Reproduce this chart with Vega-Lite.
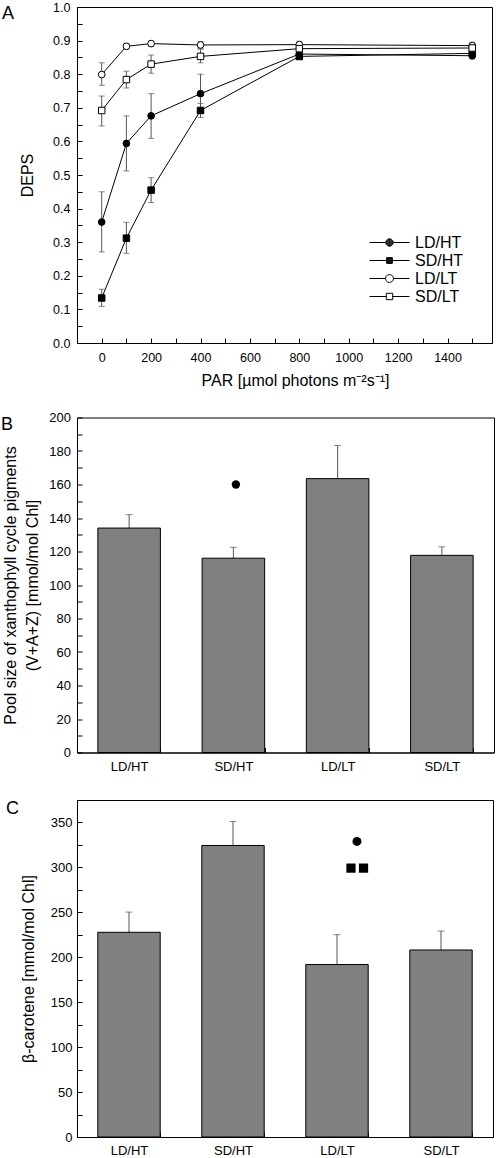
{
  "$schema": "https://vega.github.io/schema/vega-lite/v6.json",
  "background": "white",
  "padding": {"left": 0, "top": 0, "right": 3, "bottom": 2},
  "spacing": 21.5,
  "config": {
    "font": "Liberation Sans",
    "view": {"stroke": "black", "strokeWidth": 1},
    "axis": {
      "grid": false,
      "domainColor": "black",
      "tickColor": "black",
      "labelColor": "black",
      "titleColor": "black",
      "titleFontWeight": "normal",
      "titleFontSize": 16,
      "titleFont": "Liberation Sans",
      "labelFont": "Liberation Sans",
      "tickSize": -5,
      "labelOverlap": false,
      "labelBound": false
    },
    "legend": {"labelFont": "Liberation Sans"},
    "title": {"font": "Liberation Sans", "fontWeight": "normal", "fontSize": 18, "color": "black"}
  },
  "vconcat": [
    {
      "width": 415,
      "height": 336,
      "title": {"text": "A", "anchor": "start", "frame": "group", "offset": 0, "baseline": "top", "dx": -75, "dy": 22},
      "data": {
        "values": [
          {"group": "LD/HT", "par": 0, "deps": 0.360, "lo": 0.271, "hi": 0.450},
          {"group": "LD/HT", "par": 100, "deps": 0.594, "lo": 0.512, "hi": 0.676},
          {"group": "LD/HT", "par": 200, "deps": 0.676, "lo": 0.609, "hi": 0.742},
          {"group": "LD/HT", "par": 400, "deps": 0.742, "lo": 0.686, "hi": 0.800},
          {"group": "LD/HT", "par": 800, "deps": 0.860, "lo": 0.848, "hi": 0.872},
          {"group": "LD/HT", "par": 1500, "deps": 0.855, "lo": 0.845, "hi": 0.866},
          {"group": "SD/HT", "par": 0, "deps": 0.134, "lo": 0.109, "hi": 0.160},
          {"group": "SD/HT", "par": 100, "deps": 0.312, "lo": 0.267, "hi": 0.359},
          {"group": "SD/HT", "par": 200, "deps": 0.455, "lo": 0.418, "hi": 0.492},
          {"group": "SD/HT", "par": 400, "deps": 0.692, "lo": 0.671, "hi": 0.713},
          {"group": "SD/HT", "par": 800, "deps": 0.853, "lo": 0.843, "hi": 0.863},
          {"group": "SD/HT", "par": 1500, "deps": 0.862, "lo": 0.852, "hi": 0.872},
          {"group": "LD/LT", "par": 0, "deps": 0.799, "lo": 0.767, "hi": 0.834},
          {"group": "LD/LT", "par": 100, "deps": 0.883, "lo": 0.875, "hi": 0.891},
          {"group": "LD/LT", "par": 200, "deps": 0.891, "lo": 0.883, "hi": 0.899},
          {"group": "LD/LT", "par": 400, "deps": 0.887, "lo": 0.877, "hi": 0.897},
          {"group": "LD/LT", "par": 800, "deps": 0.888, "lo": 0.878, "hi": 0.898},
          {"group": "LD/LT", "par": 1500, "deps": 0.885, "lo": 0.875, "hi": 0.895},
          {"group": "SD/LT", "par": 0, "deps": 0.692, "lo": 0.646, "hi": 0.735},
          {"group": "SD/LT", "par": 100, "deps": 0.784, "lo": 0.759, "hi": 0.809},
          {"group": "SD/LT", "par": 200, "deps": 0.830, "lo": 0.803, "hi": 0.857},
          {"group": "SD/LT", "par": 400, "deps": 0.853, "lo": 0.834, "hi": 0.874},
          {"group": "SD/LT", "par": 800, "deps": 0.876, "lo": 0.866, "hi": 0.886},
          {"group": "SD/LT", "par": 1500, "deps": 0.878, "lo": 0.868, "hi": 0.888}
        ]
      },
      "encoding": {
        "x": {
          "field": "par",
          "type": "quantitative",
          "scale": {"domain": [-100, 1580], "nice": false, "zero": false},
          "axis": {
            "title": "PAR [µmol photons m⁻²s⁻¹]",
            "values": [0, 100, 200, 300, 400, 500, 600, 700, 800, 900, 1000, 1100, 1200, 1300, 1400, 1500],
            "format": "d",
            "labelExpr": "datum.value % 200 == 0 ? datum.label : ''",
            "labelFontSize": 12.5,
            "labelPadding": 13,
            "titlePadding": 9,
            "titleX": 218
          }
        }
      },
      "layer": [
        {
          "mark": {"type": "line", "color": "black", "strokeWidth": 1},
          "encoding": {
            "y": {
              "field": "deps", "type": "quantitative",
              "scale": {"domain": [0, 1], "nice": false},
              "axis": {"title": "DEPS", "values": [0, 0.05, 0.1, 0.15, 0.2, 0.25, 0.3, 0.35, 0.4, 0.45, 0.5, 0.55, 0.6, 0.65, 0.7, 0.75, 0.8, 0.85, 0.9, 0.95, 1], "labelExpr": "round(datum.value * 100) % 10 == 0 ? format(datum.value, '.1f') : ''", "labelFontSize": 12.5, "labelPadding": 12, "titlePadding": 17}
            },
            "detail": {"field": "group"}
          }
        },
        {
          "mark": {"type": "errorbar", "color": "#555555", "ticks": {"size": 6, "color": "#555555"}, "rule": {"color": "#555555"}},
          "encoding": {
            "y": {
              "field": "lo", "type": "quantitative",
              "scale": {"domain": [0, 1], "nice": false},
              "axis": {"title": "DEPS", "values": [0, 0.05, 0.1, 0.15, 0.2, 0.25, 0.3, 0.35, 0.4, 0.45, 0.5, 0.55, 0.6, 0.65, 0.7, 0.75, 0.8, 0.85, 0.9, 0.95, 1], "labelExpr": "round(datum.value * 100) % 10 == 0 ? format(datum.value, '.1f') : ''", "labelFontSize": 12.5, "labelPadding": 12, "titlePadding": 17}
            },
            "y2": {"field": "hi"},
            "detail": {"field": "group"}
          }
        },
        {
          "transform": [{"filter": "datum.group == 'LD/HT'"}],
          "mark": {"type": "point", "shape": "circle", "filled": true, "fill": "black", "stroke": "black", "strokeWidth": 1, "size": 45, "opacity": 1},
          "encoding": {
            "y": {
              "field": "deps", "type": "quantitative",
              "scale": {"domain": [0, 1], "nice": false},
              "axis": {"title": "DEPS", "values": [0, 0.05, 0.1, 0.15, 0.2, 0.25, 0.3, 0.35, 0.4, 0.45, 0.5, 0.55, 0.6, 0.65, 0.7, 0.75, 0.8, 0.85, 0.9, 0.95, 1], "labelExpr": "round(datum.value * 100) % 10 == 0 ? format(datum.value, '.1f') : ''", "labelFontSize": 12.5, "labelPadding": 12, "titlePadding": 17}
            }
          }
        },
        {
          "transform": [{"filter": "datum.group == 'SD/HT'"}],
          "mark": {"type": "point", "shape": "square", "filled": true, "fill": "black", "stroke": "black", "strokeWidth": 1, "size": 42, "opacity": 1},
          "encoding": {
            "y": {
              "field": "deps", "type": "quantitative",
              "scale": {"domain": [0, 1], "nice": false},
              "axis": {"title": "DEPS", "values": [0, 0.05, 0.1, 0.15, 0.2, 0.25, 0.3, 0.35, 0.4, 0.45, 0.5, 0.55, 0.6, 0.65, 0.7, 0.75, 0.8, 0.85, 0.9, 0.95, 1], "labelExpr": "round(datum.value * 100) % 10 == 0 ? format(datum.value, '.1f') : ''", "labelFontSize": 12.5, "labelPadding": 12, "titlePadding": 17}
            }
          }
        },
        {
          "transform": [{"filter": "datum.group == 'LD/LT'"}],
          "mark": {"type": "point", "shape": "circle", "filled": true, "fill": "white", "stroke": "black", "strokeWidth": 1, "size": 45, "opacity": 1},
          "encoding": {
            "y": {
              "field": "deps", "type": "quantitative",
              "scale": {"domain": [0, 1], "nice": false},
              "axis": {"title": "DEPS", "values": [0, 0.05, 0.1, 0.15, 0.2, 0.25, 0.3, 0.35, 0.4, 0.45, 0.5, 0.55, 0.6, 0.65, 0.7, 0.75, 0.8, 0.85, 0.9, 0.95, 1], "labelExpr": "round(datum.value * 100) % 10 == 0 ? format(datum.value, '.1f') : ''", "labelFontSize": 12.5, "labelPadding": 12, "titlePadding": 17}
            }
          }
        },
        {
          "transform": [{"filter": "datum.group == 'SD/LT'"}],
          "mark": {"type": "point", "shape": "square", "filled": true, "fill": "white", "stroke": "black", "strokeWidth": 1, "size": 42, "opacity": 1},
          "encoding": {
            "y": {
              "field": "deps", "type": "quantitative",
              "scale": {"domain": [0, 1], "nice": false},
              "axis": {"title": "DEPS", "values": [0, 0.05, 0.1, 0.15, 0.2, 0.25, 0.3, 0.35, 0.4, 0.45, 0.5, 0.55, 0.6, 0.65, 0.7, 0.75, 0.8, 0.85, 0.9, 0.95, 1], "labelExpr": "round(datum.value * 100) % 10 == 0 ? format(datum.value, '.1f') : ''", "labelFontSize": 12.5, "labelPadding": 12, "titlePadding": 17}
            }
          }
        },
        {
          "transform": [{"filter": "datum.par < -1000"}],
          "mark": {"type": "point", "filled": false, "color": "black", "strokeWidth": 1, "opacity": 1},
          "encoding": {
            "y": {
              "field": "deps", "type": "quantitative",
              "scale": {"domain": [0, 1], "nice": false},
              "axis": {"title": "DEPS", "values": [0, 0.05, 0.1, 0.15, 0.2, 0.25, 0.3, 0.35, 0.4, 0.45, 0.5, 0.55, 0.6, 0.65, 0.7, 0.75, 0.8, 0.85, 0.9, 0.95, 1], "labelExpr": "round(datum.value * 100) % 10 == 0 ? format(datum.value, '.1f') : ''", "labelFontSize": 12.5, "labelPadding": 12, "titlePadding": 17}
            },
            "shape": {
              "field": "group", "type": "nominal",
              "scale": {
                "domain": ["LD/HT", "SD/HT", "LD/LT", "SD/LT"],
                "range": [
                  "M-2.5,0H-0.47M0.47,0H2.5M0.47,0L0.407,0.235L0.235,0.407L0,0.47L-0.235,0.407L-0.407,0.235L-0.47,0L-0.407,-0.235L-0.235,-0.407L0,-0.47L0.235,-0.407L0.407,-0.235ZM0.39,0L0.338,0.195L0.195,0.338L0,0.39L-0.195,0.338L-0.338,0.195L-0.39,0L-0.338,-0.195L-0.195,-0.338L0,-0.39L0.195,-0.338L0.338,-0.195ZM0.31,0L0.268,0.155L0.155,0.268L0,0.31L-0.155,0.268L-0.268,0.155L-0.31,0L-0.268,-0.155L-0.155,-0.268L0,-0.31L0.155,-0.268L0.268,-0.155ZM0.23,0L0.199,0.115L0.115,0.199L0,0.23L-0.115,0.199L-0.199,0.115L-0.23,0L-0.199,-0.115L-0.115,-0.199L0,-0.23L0.115,-0.199L0.199,-0.115ZM0.15,0L0.13,0.075L0.075,0.13L0,0.15L-0.075,0.13L-0.13,0.075L-0.15,0L-0.13,-0.075L-0.075,-0.13L0,-0.15L0.075,-0.13L0.13,-0.075ZM-0.05,-0.05H0.05V0.05H-0.05Z",
                  "M-2.5,0H-0.36M0.36,0H2.5M-0.36,-0.36H0.36V0.36H-0.36ZM-0.29,-0.29H0.29V0.29H-0.29ZM-0.22,-0.22H0.22V0.22H-0.22ZM-0.15,-0.15H0.15V0.15H-0.15ZM-0.08,-0.08H0.08V0.08H-0.08Z",
                  "M-2.5,0H-0.5M0.5,0H2.5M0.5,0L0.433,0.25L0.25,0.433L0,0.5L-0.25,0.433L-0.433,0.25L-0.5,0L-0.433,-0.25L-0.25,-0.433L0,-0.5L0.25,-0.433L0.433,-0.25Z",
                  "M-2.5,0H-0.4M0.4,0H2.5M-0.4,-0.4H0.4V0.4H-0.4Z"
                ]
              },
              "legend": {
                "orient": "none",
                "legendX": 304,
                "legendY": 227,
                "title": null,
                "padding": 0,
                "rowPadding": 1,
                "labelFontSize": 16,
                "labelColor": "black",
                "labelOffset": 17,
                "symbolSize": 256,
                "symbolStrokeColor": "black",
                "symbolStrokeWidth": 1
              }
            }
          }
        }
      ]
    },
    {
      "spacing": 19.5,
      "vconcat": [
        {
          "width": 417,
          "height": 335,
          "title": {"text": "B", "anchor": "start", "frame": "group", "offset": 0, "baseline": "top", "dx": -76, "dy": 22},
          "layer": [
            {
              "data": {
                "values": [
                  {"group": "LD/HT", "value": 134, "hi": 142},
                  {"group": "SD/HT", "value": 116, "hi": 122.5},
                  {"group": "LD/LT", "value": 163.5, "hi": 183.3},
                  {"group": "SD/LT", "value": 117.7, "hi": 122.8}
                ]
              },
              "layer": [
                {
                  "mark": {"type": "rule", "color": "#555555", "strokeWidth": 1},
                  "encoding": {
                    "x": {"field": "group", "type": "nominal", "scale": {"type": "band", "domain": ["LD/HT", "SD/HT", "LD/LT", "SD/LT"], "paddingInner": 0.4, "paddingOuter": 0.2}, "axis": {"title": null, "labelAngle": 0, "labelFontSize": 13, "labelPadding": 12.5, "tickBand": "extent"}},
                    "y": {"field": "value", "type": "quantitative", "scale": {"domain": [0, 200], "nice": false}, "axis": {"title": ["Pool size of xanthophyll cycle pigments", "(V+A+Z) [mmol/mol Chl]"], "titleLineHeight": 22, "values": [0, 10, 20, 30, 40, 50, 60, 70, 80, 90, 100, 110, 120, 130, 140, 150, 160, 170, 180, 190, 200], "labelExpr": "datum.value % 20 == 0 ? datum.label : ''", "labelFontSize": 13, "labelPadding": 11.5, "titlePadding": 8}},
                    "y2": {"field": "hi"}
                  }
                },
                {
                  "mark": {"type": "tick", "color": "#555555", "size": 7, "thickness": 1},
                  "encoding": {
                    "x": {"field": "group", "type": "nominal", "scale": {"type": "band", "domain": ["LD/HT", "SD/HT", "LD/LT", "SD/LT"], "paddingInner": 0.4, "paddingOuter": 0.2}, "axis": {"title": null, "labelAngle": 0, "labelFontSize": 13, "labelPadding": 12.5, "tickBand": "extent"}},
                    "y": {"field": "hi", "type": "quantitative", "scale": {"domain": [0, 200], "nice": false}, "axis": {"title": ["Pool size of xanthophyll cycle pigments", "(V+A+Z) [mmol/mol Chl]"], "titleLineHeight": 22, "values": [0, 10, 20, 30, 40, 50, 60, 70, 80, 90, 100, 110, 120, 130, 140, 150, 160, 170, 180, 190, 200], "labelExpr": "datum.value % 20 == 0 ? datum.label : ''", "labelFontSize": 13, "labelPadding": 11.5, "titlePadding": 8}}
                  }
                },
                {
                  "mark": {"type": "bar", "color": "#808080", "stroke": "black", "strokeWidth": 1},
                  "encoding": {
                    "x": {"field": "group", "type": "nominal", "scale": {"type": "band", "domain": ["LD/HT", "SD/HT", "LD/LT", "SD/LT"], "paddingInner": 0.4, "paddingOuter": 0.2}, "axis": {"title": null, "labelAngle": 0, "labelFontSize": 13, "labelPadding": 12.5, "tickBand": "extent"}},
                    "y": {"field": "value", "type": "quantitative", "scale": {"domain": [0, 200], "nice": false}, "axis": {"title": ["Pool size of xanthophyll cycle pigments", "(V+A+Z) [mmol/mol Chl]"], "titleLineHeight": 22, "values": [0, 10, 20, 30, 40, 50, 60, 70, 80, 90, 100, 110, 120, 130, 140, 150, 160, 170, 180, 190, 200], "labelExpr": "datum.value % 20 == 0 ? datum.label : ''", "labelFontSize": 13, "labelPadding": 11.5, "titlePadding": 8}}
                  }
                }
              ]
            },
            {
              "data": {"values": [{"group": "SD/HT", "value": 160}]},
              "mark": {"type": "point", "shape": "circle", "filled": true, "color": "black", "size": 70, "opacity": 1},
              "encoding": {
                "x": {"field": "group", "type": "nominal", "bandPosition": 0.54, "scale": {"type": "band", "domain": ["LD/HT", "SD/HT", "LD/LT", "SD/LT"], "paddingInner": 0.4, "paddingOuter": 0.2}, "axis": {"title": null, "labelAngle": 0, "labelFontSize": 13, "labelPadding": 12.5, "tickBand": "extent"}},
                "y": {"field": "value", "type": "quantitative", "scale": {"domain": [0, 200], "nice": false}, "axis": {"title": ["Pool size of xanthophyll cycle pigments", "(V+A+Z) [mmol/mol Chl]"], "titleLineHeight": 22, "values": [0, 10, 20, 30, 40, 50, 60, 70, 80, 90, 100, 110, 120, 130, 140, 150, 160, 170, 180, 190, 200], "labelExpr": "datum.value % 20 == 0 ? datum.label : ''", "labelFontSize": 13, "labelPadding": 11.5, "titlePadding": 8}}
              }
            }
          ]
        },
        {
          "width": 416,
          "height": 337,
          "title": {"text": "C", "anchor": "start", "frame": "group", "offset": 0, "baseline": "top", "dx": -71, "dy": 23.8},
          "layer": [
            {
              "data": {
                "values": [
                  {"group": "LD/HT", "value": 227.8, "hi": 250.3},
                  {"group": "SD/HT", "value": 324.4, "hi": 351},
                  {"group": "LD/LT", "value": 191.9, "hi": 225.2},
                  {"group": "SD/LT", "value": 208.1, "hi": 229.2}
                ]
              },
              "layer": [
                {
                  "mark": {"type": "rule", "color": "#555555", "strokeWidth": 1},
                  "encoding": {
                    "x": {"field": "group", "type": "nominal", "scale": {"type": "band", "domain": ["LD/HT", "SD/HT", "LD/LT", "SD/LT"], "paddingInner": 0.4, "paddingOuter": 0.2}, "axis": {"title": null, "labelAngle": 0, "labelFontSize": 13, "labelPadding": 12.5, "tickBand": "extent"}},
                    "y": {"field": "value", "type": "quantitative", "scale": {"domain": [0, 375], "nice": false}, "axis": {"title": "β-carotene [mmol/mol Chl]", "values": [0, 25, 50, 75, 100, 125, 150, 175, 200, 225, 250, 275, 300, 325, 350, 375], "labelExpr": "datum.value % 50 == 0 ? datum.label : ''", "labelFontSize": 13, "labelPadding": 10, "titlePadding": 14}},
                    "y2": {"field": "hi"}
                  }
                },
                {
                  "mark": {"type": "tick", "color": "#555555", "size": 7, "thickness": 1},
                  "encoding": {
                    "x": {"field": "group", "type": "nominal", "scale": {"type": "band", "domain": ["LD/HT", "SD/HT", "LD/LT", "SD/LT"], "paddingInner": 0.4, "paddingOuter": 0.2}, "axis": {"title": null, "labelAngle": 0, "labelFontSize": 13, "labelPadding": 12.5, "tickBand": "extent"}},
                    "y": {"field": "hi", "type": "quantitative", "scale": {"domain": [0, 375], "nice": false}, "axis": {"title": "β-carotene [mmol/mol Chl]", "values": [0, 25, 50, 75, 100, 125, 150, 175, 200, 225, 250, 275, 300, 325, 350, 375], "labelExpr": "datum.value % 50 == 0 ? datum.label : ''", "labelFontSize": 13, "labelPadding": 10, "titlePadding": 14}}
                  }
                },
                {
                  "mark": {"type": "bar", "color": "#808080", "stroke": "black", "strokeWidth": 1},
                  "encoding": {
                    "x": {"field": "group", "type": "nominal", "scale": {"type": "band", "domain": ["LD/HT", "SD/HT", "LD/LT", "SD/LT"], "paddingInner": 0.4, "paddingOuter": 0.2}, "axis": {"title": null, "labelAngle": 0, "labelFontSize": 13, "labelPadding": 12.5, "tickBand": "extent"}},
                    "y": {"field": "value", "type": "quantitative", "scale": {"domain": [0, 375], "nice": false}, "axis": {"title": "β-carotene [mmol/mol Chl]", "values": [0, 25, 50, 75, 100, 125, 150, 175, 200, 225, 250, 275, 300, 325, 350, 375], "labelExpr": "datum.value % 50 == 0 ? datum.label : ''", "labelFontSize": 13, "labelPadding": 10, "titlePadding": 14}}
                  }
                }
              ]
            },
            {
              "data": {"values": [{"group": "LD/LT", "value": 328.9}]},
              "mark": {"type": "point", "shape": "circle", "filled": true, "color": "black", "size": 80, "opacity": 1},
              "encoding": {
                "x": {"field": "group", "type": "nominal", "bandPosition": 0.82, "scale": {"type": "band", "domain": ["LD/HT", "SD/HT", "LD/LT", "SD/LT"], "paddingInner": 0.4, "paddingOuter": 0.2}, "axis": {"title": null, "labelAngle": 0, "labelFontSize": 13, "labelPadding": 12.5, "tickBand": "extent"}},
                "y": {"field": "value", "type": "quantitative", "scale": {"domain": [0, 375], "nice": false}, "axis": {"title": "β-carotene [mmol/mol Chl]", "values": [0, 25, 50, 75, 100, 125, 150, 175, 200, 225, 250, 275, 300, 325, 350, 375], "labelExpr": "datum.value % 50 == 0 ? datum.label : ''", "labelFontSize": 13, "labelPadding": 10, "titlePadding": 14}}
              }
            },
            {
              "data": {"values": [{"group": "LD/LT", "value": 299.2}]},
              "mark": {"type": "point", "shape": "square", "filled": true, "color": "black", "size": 85, "opacity": 1},
              "encoding": {
                "x": {"field": "group", "type": "nominal", "bandPosition": 0.724, "scale": {"type": "band", "domain": ["LD/HT", "SD/HT", "LD/LT", "SD/LT"], "paddingInner": 0.4, "paddingOuter": 0.2}, "axis": {"title": null, "labelAngle": 0, "labelFontSize": 13, "labelPadding": 12.5, "tickBand": "extent"}},
                "y": {"field": "value", "type": "quantitative", "scale": {"domain": [0, 375], "nice": false}, "axis": {"title": "β-carotene [mmol/mol Chl]", "values": [0, 25, 50, 75, 100, 125, 150, 175, 200, 225, 250, 275, 300, 325, 350, 375], "labelExpr": "datum.value % 50 == 0 ? datum.label : ''", "labelFontSize": 13, "labelPadding": 10, "titlePadding": 14}}
              }
            },
            {
              "data": {"values": [{"group": "LD/LT", "value": 299.2}]},
              "mark": {"type": "point", "shape": "square", "filled": true, "color": "black", "size": 85, "opacity": 1},
              "encoding": {
                "x": {"field": "group", "type": "nominal", "bandPosition": 0.925, "scale": {"type": "band", "domain": ["LD/HT", "SD/HT", "LD/LT", "SD/LT"], "paddingInner": 0.4, "paddingOuter": 0.2}, "axis": {"title": null, "labelAngle": 0, "labelFontSize": 13, "labelPadding": 12.5, "tickBand": "extent"}},
                "y": {"field": "value", "type": "quantitative", "scale": {"domain": [0, 375], "nice": false}, "axis": {"title": "β-carotene [mmol/mol Chl]", "values": [0, 25, 50, 75, 100, 125, 150, 175, 200, 225, 250, 275, 300, 325, 350, 375], "labelExpr": "datum.value % 50 == 0 ? datum.label : ''", "labelFontSize": 13, "labelPadding": 10, "titlePadding": 14}}
              }
            }
          ]
        }
      ]
    }
  ]
}
